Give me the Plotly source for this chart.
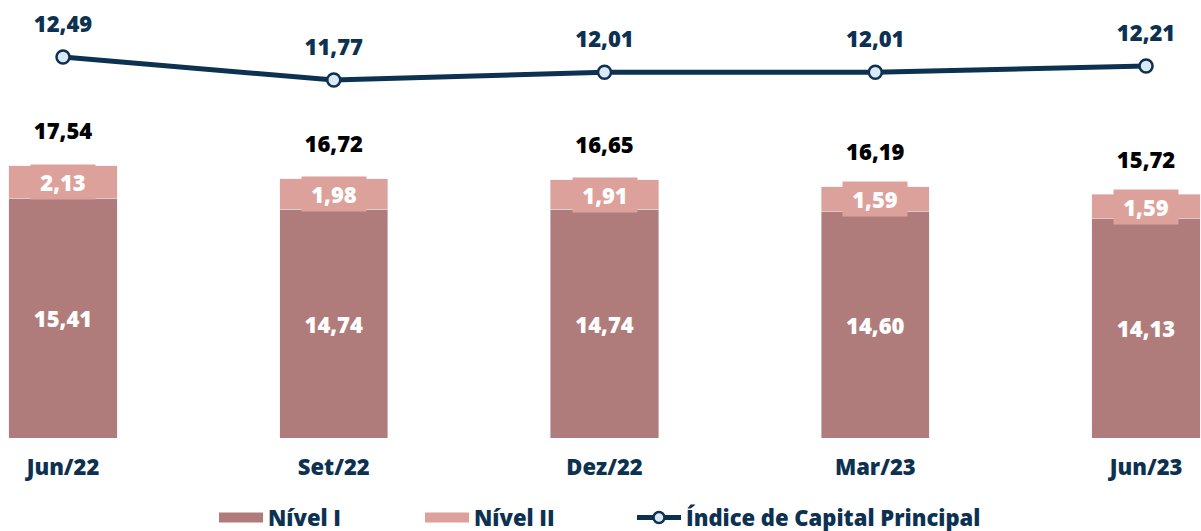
import plotly.graph_objects as go

PERIODOS = ['Jun/22', 'Set/22', 'Dez/22', 'Mar/23', 'Jun/23']
NIVEL_I = [15.41, 14.74, 14.74, 14.60, 14.13]
NIVEL_II = [2.13, 1.98, 1.91, 1.59, 1.59]
TOTAL = [17.54, 16.72, 16.65, 16.19, 15.72]
INDICE = [12.49, 11.77, 12.01, 12.01, 12.21]

NAVY = '#0d3151'
COR_I = '#b07c7b'
COR_II = '#dca19a'
FONTE = 'Open Sans'
TAM = 22


def fmt(v):
    return f'{v:.2f}'.replace('.', ',')


fig = go.Figure()

fig.add_trace(go.Bar(
    x=PERIODOS, y=NIVEL_I, name='Nível I', marker_color=COR_I, width=0.4, showlegend=False,
    text=[fmt(v) for v in NIVEL_I], textposition='inside', insidetextanchor='middle', textangle=0,
    textfont=dict(color='white', size=TAM, family=FONTE, weight=800),
    hoverinfo='skip',
))
fig.add_trace(go.Bar(
    x=PERIODOS, y=NIVEL_II, name='Nível II', marker_color=COR_II, width=0.4, showlegend=False,
    hoverinfo='skip',
))
# rótulos do Nível II com caixa de fundo
for p, base, v in zip(PERIODOS, NIVEL_I, NIVEL_II):
    fig.add_annotation(x=p, y=base + v / 2, text=fmt(v), showarrow=False,
                       bgcolor=COR_II, width=60, height=30, borderpad=2,
                       font=dict(color='white', size=TAM, family=FONTE, weight=800))

# totais acima das barras
fig.add_trace(go.Scatter(
    x=PERIODOS, y=TOTAL, mode='markers+text', text=[fmt(v) for v in TOTAL],
    textposition='top center', showlegend=False, hoverinfo='skip',
    marker=dict(size=32, opacity=0),
    textfont=dict(color='black', size=TAM, family=FONTE, weight=800),
))
fig.add_trace(go.Scatter(
    x=PERIODOS, y=INDICE, name='Índice de Capital Principal', yaxis='y2', showlegend=False,
    mode='lines+markers',
    line=dict(color=NAVY, width=5),
    marker=dict(size=13, color='#dbe8f5', line=dict(color=NAVY, width=2.5)),
    hoverinfo='skip',
))
fig.add_trace(go.Scatter(
    x=PERIODOS, y=INDICE, yaxis='y2', showlegend=False, mode='markers+text',
    text=[fmt(v) for v in INDICE], textposition='top center',
    marker=dict(size=30, opacity=0),
    textfont=dict(color=NAVY, size=TAM, family=FONTE, weight=800),
    hoverinfo='skip',
))

# entradas da legenda (retângulos largos como no original)
fig.add_trace(go.Scatter(x=[None], y=[None], mode='lines', name='Nível I', legend='legend',
                         line=dict(color=COR_I, width=14)))
fig.add_trace(go.Scatter(x=[None], y=[None], mode='lines', name='Nível II', legend='legend2',
                         line=dict(color=COR_II, width=14)))
fig.add_trace(go.Scatter(x=[None], y=[None], mode='lines+markers', name='Índice de Capital Principal',
                         legend='legend3', line=dict(color=NAVY, width=5),
                         marker=dict(size=11, color='#dbe8f5', line=dict(color=NAVY, width=2.5))))

leg = dict(orientation='h', xanchor='left', yref='container', yanchor='middle', y=0.025,
           font=dict(size=TAM, color=NAVY, family=FONTE, weight=800), itemwidth=44,
           bgcolor='rgba(0,0,0,0)')

fig.update_layout(
    width=1201, height=531,
    margin=dict(l=0, r=0, t=0, b=93),
    barmode='stack', separators=',.',
    plot_bgcolor='white', paper_bgcolor='white',
    font=dict(family=FONTE, color=NAVY),
    uniformtext=dict(minsize=TAM, mode='show'),
    xaxis=dict(range=[-0.2327, 4.2029], showgrid=False, showline=False, ticks='',
               ticklabelstandoff=14,
               tickfont=dict(size=TAM, color=NAVY, family=FONTE, weight=800)),
    yaxis=dict(range=[0, 28.24], visible=False),
    yaxis2=dict(range=[0.56, 14.275], overlaying='y', visible=False),
    legend=dict(leg, x=214 / 1201),
    legend2=dict(leg, x=420 / 1201),
    legend3=dict(leg, x=632 / 1201),
)

fig.write_html('out.html', config={'displayModeBar': False},
               post_script="document.body.style.margin='0';")
